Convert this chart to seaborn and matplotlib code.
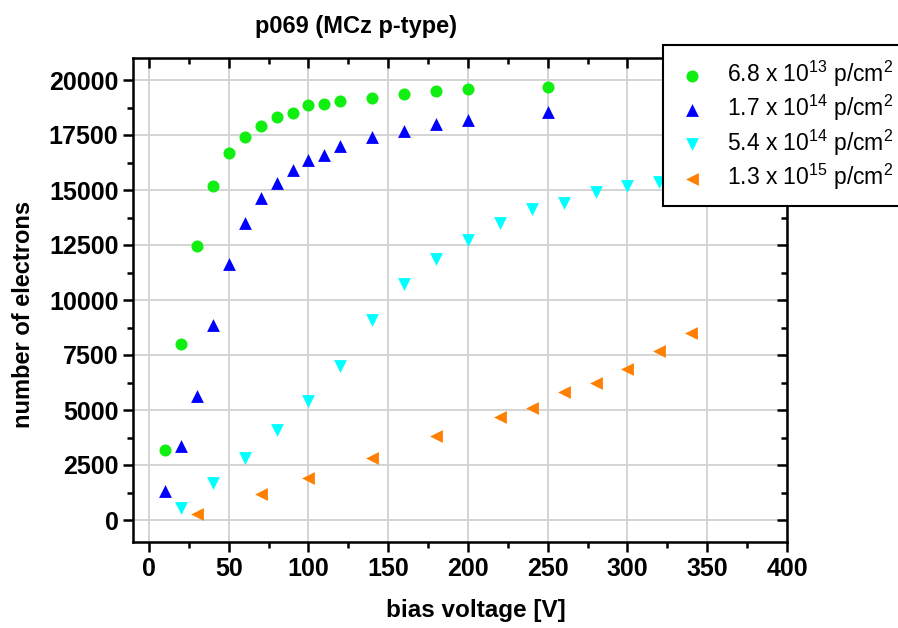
import matplotlib
matplotlib.use("Agg")
import matplotlib.pyplot as plt
import seaborn as sns
import pandas as pd
from matplotlib.ticker import MultipleLocator

# ---- data ----
v_green = [10, 20, 30, 40, 50, 60, 70, 80, 90, 100, 110, 120, 140, 160, 180, 200, 250]
e_green = [3170, 7980, 12470, 15180, 16670, 17420, 17900, 18340, 18480, 18850, 18900,
           19040, 19160, 19380, 19490, 19570, 19660]
v_blue = [10, 20, 30, 40, 50, 60, 70, 80, 90, 100, 110, 120, 140, 160, 180, 200, 250]
e_blue = [1320, 3350, 5650, 8870, 11630, 13480, 14620, 15330, 15890, 16380, 16570,
          16980, 17410, 17660, 17990, 18190, 18540]
v_cyan = [20, 40, 60, 80, 100, 120, 140, 160, 180, 200, 220, 240, 260, 280, 300, 320]
e_cyan = [550, 1680, 2800, 4070, 5430, 7000, 9070, 10710, 11870, 12750, 13500, 14120,
          14420, 14900, 15160, 15360]
v_orange = [30, 70, 100, 140, 180, 220, 240, 260, 280, 300, 320, 340]
e_orange = [280, 1160, 1930, 2840, 3800, 4700, 5100, 5820, 6210, 6880, 7670, 8480]

labels = ["6.8 x 10$^{13}$ p/cm$^{2}$", "1.7 x 10$^{14}$ p/cm$^{2}$",
          "5.4 x 10$^{14}$ p/cm$^{2}$", "1.3 x 10$^{15}$ p/cm$^{2}$"]
title = "p069 (MCz p-type)"
xlabel = "bias voltage [V]"
ylabel = "number of electrons"

sns.set_style("white")
plt.rcParams['font.family'] = ['Liberation Sans', 'DejaVu Sans']
plt.rcParams['mathtext.fontset'] = 'custom'
plt.rcParams['mathtext.rm'] = 'Liberation Sans'
plt.rcParams['text.color'] = 'black'
plt.rcParams['axes.labelcolor'] = 'black'
plt.rcParams['xtick.color'] = 'black'
plt.rcParams['ytick.color'] = 'black'

fig = plt.figure(figsize=(8.98, 6.28), dpi=100)
ax = fig.add_axes([133/898, 1-542/628, 654/898, 484/628])

series = [
    (v_green, e_green, "o", "#11ee11", 75),
    (v_blue, e_blue, "^", "#0000ff", 85),
    (v_cyan, e_cyan, "v", "#00ffff", 85),
    (v_orange, e_orange, "<", "#ff8000", 85),
]
for (vx, ey, m, c, s), lab in zip(series, labels):
    df = pd.DataFrame({"v": vx, "e": ey})
    sns.scatterplot(data=df, x="v", y="e", marker=m, color=c, s=s, linewidth=0,
                    ax=ax, label=lab, zorder=3)

ax.set_xlim(-10, 400)
ax.set_ylim(-1000, 21000)
ax.xaxis.set_major_locator(MultipleLocator(50))
ax.xaxis.set_minor_locator(MultipleLocator(25))
ax.yaxis.set_major_locator(MultipleLocator(2500))
ax.yaxis.set_minor_locator(MultipleLocator(1250))
ax.grid(True, which="major", color="#d4d4d4", linewidth=1.4, zorder=0)
ax.set_axisbelow(True)

for sp in ax.spines.values():
    sp.set_visible(True)
    sp.set_color("black")
    sp.set_linewidth(1.8)

ax.tick_params(axis="both", which="major", direction="out", length=7, width=1.8,
               labelsize=18, color="black", labelcolor="black", bottom=True, left=True)
ax.tick_params(axis="both", which="minor", direction="out", length=4, width=1.8,
               color="black", bottom=True, left=True)
ax.tick_params(axis="x", which="both", top=True)
ax.tick_params(axis="y", which="both", right=True)
for t in ax.xaxis.get_major_ticks() + ax.xaxis.get_minor_ticks():
    t.tick2line.set_marker(matplotlib.lines.TICKDOWN)
for t in ax.yaxis.get_major_ticks() + ax.yaxis.get_minor_ticks():
    t.tick2line.set_marker(matplotlib.lines.TICKLEFT)

for lab in ax.get_xticklabels() + ax.get_yticklabels():
    lab.set_fontweight("bold")

ax.set_xlabel(xlabel, fontsize=17.5, fontweight="bold", color="black")
ax.set_ylabel(ylabel, fontsize=17, fontweight="bold", color="black")
ax.xaxis.set_label_coords(0.524, -0.118)
ax.yaxis.set_label_coords(-0.15, 0.47)

fig.text(356/898, 1-27/628, title, fontsize=17, fontweight="bold", ha="center",
         va="center", color="black")

leg = ax.legend(loc="upper left", bbox_to_anchor=(663/898, 1-45/628),
                bbox_transform=fig.transFigure, frameon=True, fancybox=False,
                framealpha=1, edgecolor="black", fontsize=16.5, borderpad=0.6,
                borderaxespad=0, labelspacing=0.18, handletextpad=0.9,
                handlelength=1.3, markerscale=1.0, labelcolor="black")
leg.get_frame().set_linewidth(1.5)
leg.set_zorder(10)

fig.savefig("out.png", dpi=100)
